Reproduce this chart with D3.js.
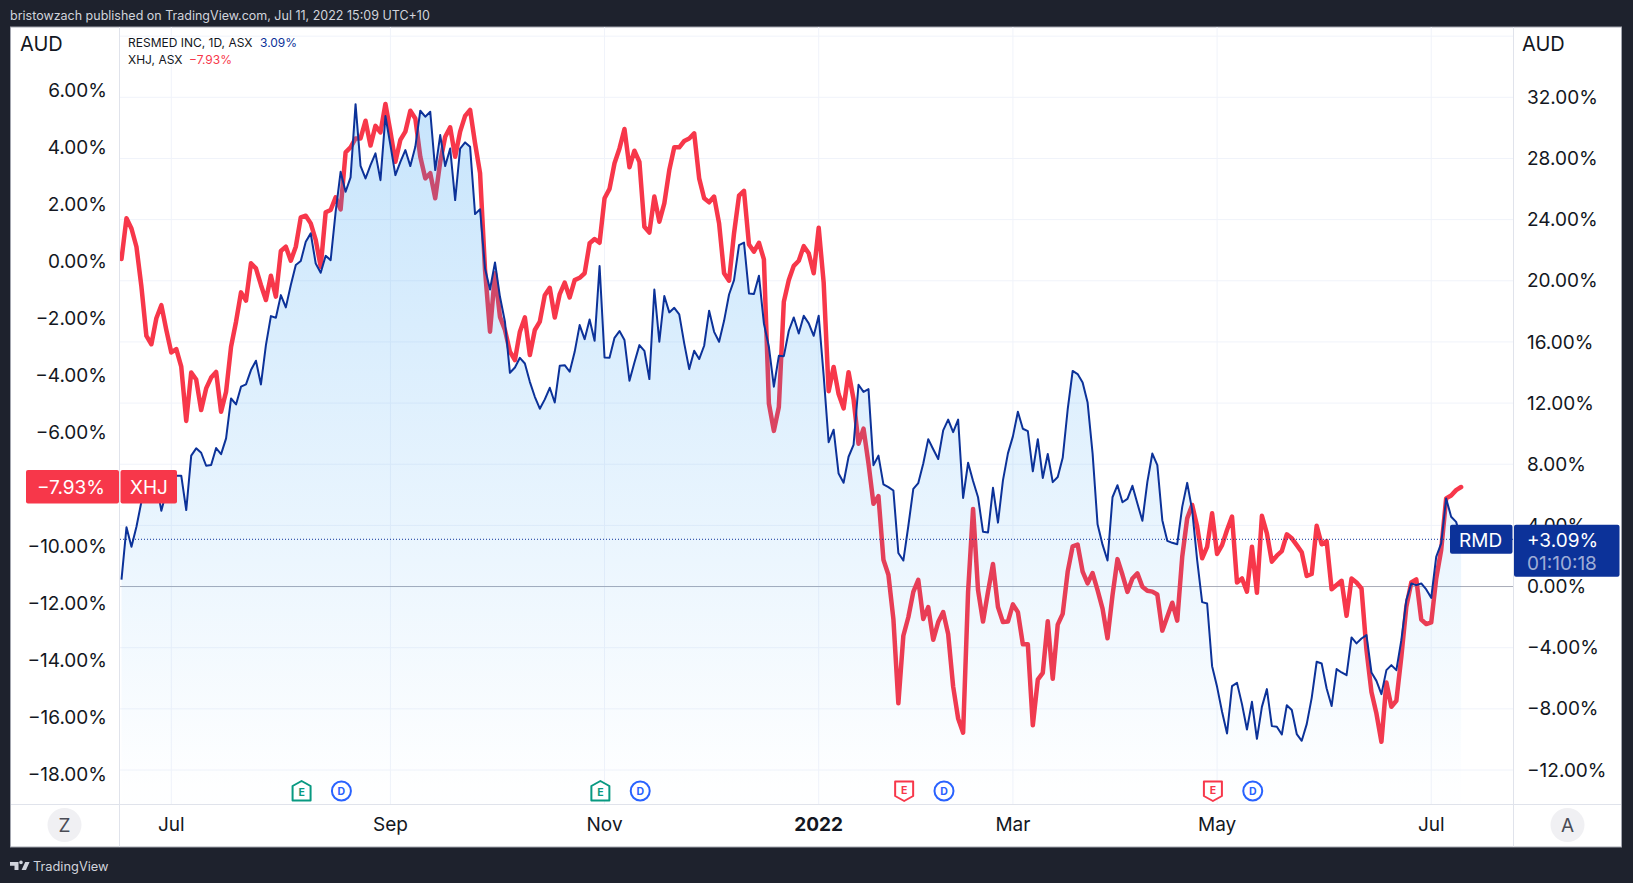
<!DOCTYPE html>
<html><head><meta charset="utf-8">
<script src="https://cdn.jsdelivr.net/npm/d3@7"></script>
<style>
html,body{margin:0;padding:0;background:#1e222d;}
svg{display:block;font-family:Inter,"Noto Sans",sans-serif;}
.axis path,.axis line{display:none;}
.axis text{font-family:Inter,"Noto Sans",sans-serif;font-size:19px;fill:#131722;}
</style></head><body>
<script>
const resmedValues = [
0.45,3.87,2.60,3.91,5.55,6.64,7.2,6.75,4.96,6.2,
7.18,7.25,7.25,5.0,8.56,9.04,8.75,7.9,7.95,9.06,
8.66,9.69,12.3,11.91,13.07,13.22,14.16,14.77,13.22,15.79,
17.69,17.58,19.06,18.26,19.72,21.03,21.29,22.55,23.1,21.13,
20.52,21.63,21.35,24.51,27.13,25.82,26.76,31.55,27.52,26.69,
27.57,28.33,26.58,30.77,28.87,26.91,27.78,28.55,27.5,28.76,
31.12,30.73,31.05,27.24,29.53,27.5,28.65,25.28,28.65,29.05,
28.76,24.36,24.68,20.8,19.43,21.2,18.95,17.32,13.98,14.33,
14.96,14.59,13.39,12.41,11.63,12.24,13.0,12.04,14.44,14.48,
14.05,15.35,17.1,16.18,17.47,16.07,20.96,14.98,14.96,16.27,
16.71,16.12,13.46,14.66,15.79,15.42,13.57,19.43,16.01,19.0,
17.93,18.23,17.8,15.9,14.22,15.42,14.88,15.75,18.04,16.66,
16.01,17.38,19.1,20.04,22.33,22.5,19.17,19.13,20.33,17.21,
15.68,13.07,15.09,15.07,16.73,17.6,16.55,17.71,17.21,16.4,
17.71,13.79,9.44,10.26,7.39,6.79,8.49,9.26,13.2,12.73,
12.91,7.94,8.56,6.68,6.5,6.28,2.19,1.7,3.96,6.39,
6.77,8.05,9.64,8.98,8.34,10.21,10.92,10.1,10.92,5.79,
8.09,6.9,5.84,3.58,3.54,6.46,4.18,6.94,8.71,9.82,
11.43,10.32,10.17,7.54,9.64,7.1,8.67,6.83,7.16,8.42,
11.58,14.1,13.9,13.35,12.03,8.71,4.07,2.74,1.7,5.84,
6.63,5.51,5.73,6.59,5.43,4.3,6.85,8.7,7.94,4.34,
2.99,2.86,2.77,5.21,6.78,5.0,1.73,-1.02,-1.11,-5.21,
-6.56,-8.19,-9.61,-6.51,-6.3,-7.69,-9.35,-7.54,-9.96,-7.87,
-6.71,-9.13,-9.17,-9.68,-7.76,-8.08,-9.65,-10.09,-9.0,-7.28,
-4.92,-5.03,-6.67,-7.82,-5.4,-5.62,-5.8,-3.33,-3.72,-3.4,
-3.18,-5.62,-6.17,-7.04,-5.47,-5.14,-5.47,-3.51,-0.89,0.2,
0.09,0.2,-0.19,-0.74,1.94,2.82,5.76,4.56,4.23,3.09];

const xhjValues = [
0.07,1.5,1.14,0.5,-0.9,-2.63,-2.92,-2.01,-1.55,-2.42,
-3.21,-3.09,-3.71,-5.61,-3.91,-4.16,-5.23,-4.47,-4.09,-3.89,
-5.29,-4.59,-3.01,-2.13,-1.1,-1.39,-0.08,-0.26,-0.84,-1.37,
-0.52,-1.25,0.35,0.5,0.01,0.5,1.53,1.59,1.32,0.74,
-0.2,1.71,1.79,2.23,1.81,3.81,3.99,4.3,4.3,4.92,
4.05,4.74,4.51,5.51,4.54,3.48,4.25,4.54,5.27,5.0,
3.66,2.9,3.08,2.2,3.48,4.36,4.69,3.66,4.54,5.09,
5.3,4.13,3.08,-0.32,-2.48,-0.43,-1.96,-2.42,-3.18,-3.48,
-2.48,-1.98,-3.3,-2.42,-2.13,-1.2,-0.94,-1.98,-1.16,-0.76,
-1.28,-0.67,-0.59,-0.43,0.62,0.77,0.64,2.2,2.53,3.43,
3.95,4.63,3.29,3.87,3.48,1.2,1.0,2.26,1.38,2.02,
3.19,3.99,3.99,4.21,4.3,4.48,2.9,2.2,2.06,2.26,
1.32,-0.43,-0.69,0.97,2.29,2.46,0.58,0.33,0.64,0.06,
-5.0,-5.96,-5.12,-1.43,-0.67,-0.17,0.01,0.52,0.27,-0.43,
1.17,-0.76,-4.57,-3.72,-4.67,-5.17,-3.9,-4.85,-6.41,-5.88,
-7.1,-8.52,-8.25,-10.48,-11.01,-12.56,-15.52,-13.15,-12.5,-11.61,
-11.19,-12.56,-12.14,-13.29,-12.67,-12.32,-13.09,-14.93,-16.05,-16.55,
-11.61,-8.7,-11.55,-12.65,-11.61,-10.63,-12.14,-12.67,-12.65,-12.05,
-12.32,-13.45,-13.45,-16.29,-14.69,-14.45,-12.64,-14.66,-12.76,-12.38,
-10.9,-10.01,-9.95,-10.9,-11.31,-10.95,-11.55,-12.2,-13.24,-11.73,
-10.46,-11.01,-11.61,-11.14,-10.96,-11.43,-11.57,-11.6,-11.7,-12.97,
-12.48,-11.99,-12.62,-10.38,-9.03,-8.56,-9.32,-10.43,-10.03,-8.85,
-10.28,-9.97,-9.44,-8.97,-11.28,-11.14,-11.6,-10.03,-11.64,-8.94,
-9.56,-10.55,-10.34,-10.18,-9.59,-9.73,-9.97,-10.22,-11.05,-10.98,
-9.29,-9.94,-9.83,-11.52,-11.37,-11.22,-12.45,-11.14,-11.28,-11.49,
-13.65,-15.12,-15.88,-16.87,-14.79,-15.64,-15.43,-13.89,-12.13,-11.28,
-11.17,-12.58,-12.74,-12.68,-11.14,-10.14,-8.33,-8.23,-8.04,-7.93];

const leftTicks = [6,4,2,0,-2,-4,-6,-10,-12,-14,-16,-18];
const rightTicks = [32,28,24,20,16,12,8,4,0,-4,-8,-12];
const gridTicks = [36,32,28,24,20,16,12,8,4,0,-4,-8,-12];
const monthIndex = [10,54,97,140,179,220,263];
const monthLabels = ["Jul","Sep","Nov","2022","Mar","May","Jul"];
const earningsGood = [36,96];
const earningsBad = [157,219];
const dividends = [44,104,165,227];
const headerText = "bristowzach published on TradingView.com, Jul 11, 2022 15:09 UTC+10";

const W = 1633, H = 883;
const pane = {l:120, r:1513, t:27, b:804};
const svg = d3.select("body").append("svg").attr("width",W).attr("height",H);
const pct = d => (d<0?"\u2212":"")+Math.abs(d).toFixed(2)+"%";

const x = d3.scaleLinear().domain([0,resmedValues.length-1]).range([121.5,1461.1]);
const yLeft = d3.scaleLinear().domain([-18,6]).range([774,90]);
const yRight = d3.scaleLinear().domain([-12,32]).range([770,97.3]);

const defs = svg.append("defs");
defs.append("clipPath").attr("id","pane").append("rect")
  .attr("x",pane.l).attr("y",pane.t).attr("width",pane.r-pane.l).attr("height",pane.b-pane.t);
const g = defs.append("linearGradient").attr("id","areaGrad")
  .attr("gradientUnits","userSpaceOnUse").attr("x1",0).attr("x2",0).attr("y1",105).attr("y2",785);
g.append("stop").attr("offset",0).attr("stop-color","#2196f3").attr("stop-opacity",0.25);
g.append("stop").attr("offset",1).attr("stop-color","#2196f3").attr("stop-opacity",0.005);

// frame
svg.append("rect").attr("x",10.5).attr("y",27).attr("width",1611).attr("height",820)
  .attr("fill","#fff").attr("stroke","#a3a6af");

// header & footer
svg.append("text").attr("x",10).attr("y",20).attr("font-size",12.5).attr("fill","#d1d4dc").text(headerText);
svg.append("path").attr("fill","#d1d4dc")
  .attr("d","M10 862h8.5v8h-4v-4.2H10z M21 864.2a1.8 1.8 0 1 0 0-3.6a1.8 1.8 0 0 0 0 3.6z M25.2 862h4.4l-3.6 8h-4.4z");
svg.append("text").attr("x",33).attr("y",871).attr("font-size",12.8).attr("fill","#d1d4dc").text("TradingView");

// grid
const grid = svg.append("g");
grid.selectAll("line.h").data(gridTicks).join("line").attr("class","h")
  .attr("x1",pane.l).attr("x2",pane.r).attr("y1",d=>yRight(d)).attr("y2",d=>yRight(d))
  .attr("stroke","#f0f3fa").attr("stroke-width",1);
grid.selectAll("line.v").data(monthIndex).join("line").attr("class","v")
  .attr("x1",d=>x(d)).attr("x2",d=>x(d)).attr("y1",pane.t).attr("y2",pane.b)
  .attr("stroke","#f0f3fa").attr("stroke-width",1);

// series: red sits beneath the translucent blue area
const plot = svg.append("g").attr("clip-path","url(#pane)");
plot.append("line").attr("x1",pane.l).attr("x2",pane.r).attr("y1",yRight(0)).attr("y2",yRight(0))
  .attr("stroke","#a9acb8").attr("stroke-width",1);
plot.append("path").datum(xhjValues).attr("fill","none").attr("stroke","#f7374a").attr("stroke-width",4.5)
  .attr("stroke-linejoin","round").attr("stroke-linecap","round")
  .attr("d",d3.line().x((d,i)=>x(i)).y(d=>yLeft(d)));
plot.append("path").datum(resmedValues).attr("fill","url(#areaGrad)")
  .attr("d",d3.area().x((d,i)=>x(i)).y0(pane.b).y1(d=>yRight(d)));
plot.append("path").datum(resmedValues).attr("fill","none").attr("stroke","#0c3299").attr("stroke-width",2)
  .attr("stroke-linejoin","round")
  .attr("d",d3.line().x((d,i)=>x(i)).y(d=>yRight(d)));
const last = resmedValues[resmedValues.length-1];
plot.append("line").attr("x1",pane.l).attr("x2",pane.r).attr("y1",yRight(last)).attr("y2",yRight(last))
  .attr("stroke","#0c3299").attr("stroke-width",1).attr("stroke-dasharray","1 2");

// pane borders
const borders = svg.append("g").attr("stroke","#e0e3eb").attr("stroke-width",1);
borders.append("line").attr("x1",119.5).attr("x2",119.5).attr("y1",27).attr("y2",846.5);
borders.append("line").attr("x1",1513.5).attr("x2",1513.5).attr("y1",27).attr("y2",846.5);
borders.append("line").attr("x1",11).attr("x2",1621).attr("y1",804.5).attr("y2",804.5);

// axes
svg.append("g").attr("class","axis").attr("transform","translate(107,0)")
  .call(d3.axisLeft(yLeft).tickValues(leftTicks).tickSize(0).tickPadding(0).tickFormat(pct));
svg.append("g").attr("class","axis").attr("transform","translate(1527,0)")
  .call(d3.axisRight(yRight).tickValues(rightTicks).tickSize(0).tickPadding(0).tickFormat(pct));
const xAxisG = svg.append("g").attr("class","axis").attr("transform","translate(-0.5,804)")
  .call(d3.axisBottom(x).tickValues(monthIndex).tickSize(0).tickPadding(14)
    .tickFormat(d=>monthLabels[monthIndex.indexOf(d)]));
xAxisG.selectAll("text")
  .style("font-weight",d=>monthLabels[monthIndex.indexOf(d)]==="2022"?700:400);

// currency
svg.append("text").attr("x",20).attr("y",51).attr("font-size",20).attr("fill","#131722").text("AUD");
svg.append("text").attr("x",1522).attr("y",51).attr("font-size",20).attr("fill","#131722").text("AUD");

// legend
const lg = svg.append("g").attr("font-size",12);
lg.append("text").attr("x",128).attr("y",47).attr("fill","#131722").text("RESMED INC, 1D, ASX");
lg.append("text").attr("x",260).attr("y",47).attr("fill","#0c3299").text(resmedValues[269].toFixed(2)+"%");
lg.append("text").attr("x",128).attr("y",64).attr("fill","#131722").text("XHJ, ASX");
lg.append("text").attr("x",189).attr("y",64).attr("fill","#f7374a").text(pct(xhjValues[269]));

// price labels
function box(x0,y0,w,h,fill){svg.append("rect").attr("x",x0).attr("y",y0).attr("width",w).attr("height",h).attr("rx",2).attr("fill",fill);}
const yX = yLeft(xhjValues[269]), yR = yRight(last);
box(26,yX-17,93,33.5,"#f7374a");
box(120.5,yX-17,56.5,33.5,"#f7374a");
svg.append("text").attr("x",105).attr("y",yX+7).attr("text-anchor","end").attr("font-size",19).attr("fill","#fff").text(pct(xhjValues[269]));
svg.append("text").attr("x",130).attr("y",yX+7).attr("font-size",19).attr("fill","#fff").text("XHJ");
box(1450,yR-14.5,62.5,29,"#0c3299");
box(1514,yR-14.5,105.5,52,"#0c3299");
svg.append("text").attr("x",1459).attr("y",yR+8).attr("font-size",19).attr("fill","#fff").text("RMD");
svg.append("text").attr("x",1527).attr("y",yR+8).attr("font-size",19).attr("fill","#fff").text("+"+last.toFixed(2)+"%");
svg.append("text").attr("x",1527).attr("y",yR+31).attr("font-size",19).attr("fill","#fff").attr("fill-opacity",0.62).text("01:10:18");

// event markers
const mY = 791;
const mx = d => x(d)+0.8;
const ev = svg.append("g").attr("font-size",10.5).attr("font-weight",700).attr("text-anchor","middle");
ev.selectAll("path.g").data(earningsGood).join("path").attr("class","g")
  .attr("transform",d=>`translate(${mx(d)},${mY})`)
  .attr("d","M-9,-5 L0,-10 L9,-5 V9.5 H-9 Z").attr("fill","#fff").attr("stroke","#089981").attr("stroke-width",2).attr("stroke-linejoin","round");
ev.selectAll("text.g").data(earningsGood).join("text").attr("class","g")
  .attr("x",d=>mx(d)).attr("y",mY+5).attr("fill","#089981").text("E");
ev.selectAll("path.r").data(earningsBad).join("path").attr("class","r")
  .attr("transform",d=>`translate(${mx(d)},${mY})`)
  .attr("d","M-9,-9.5 H9 V5 L0,10 L-9,5 Z").attr("fill","#fff").attr("stroke","#f7374a").attr("stroke-width",2).attr("stroke-linejoin","round");
ev.selectAll("text.r").data(earningsBad).join("text").attr("class","r")
  .attr("x",d=>mx(d)).attr("y",mY+3).attr("fill","#f7374a").text("E");
ev.selectAll("circle").data(dividends).join("circle")
  .attr("cx",d=>mx(d)).attr("cy",mY).attr("r",9.5).attr("fill","#fff").attr("stroke","#2962ff").attr("stroke-width",2);
ev.selectAll("text.d").data(dividends).join("text").attr("class","d")
  .attr("x",d=>mx(d)).attr("y",mY+4).attr("fill","#2962ff").text("D");

// scale buttons
[[64.5,"Z"],[1567.5,"A"]].forEach(([cx,t])=>{
  svg.append("circle").attr("cx",cx).attr("cy",825).attr("r",17).attr("fill","#f0f0f3");
  svg.append("text").attr("x",cx).attr("y",832).attr("text-anchor","middle").attr("font-size",19).attr("fill","#4a4c55").text(t);
});
</script>
</body></html>
